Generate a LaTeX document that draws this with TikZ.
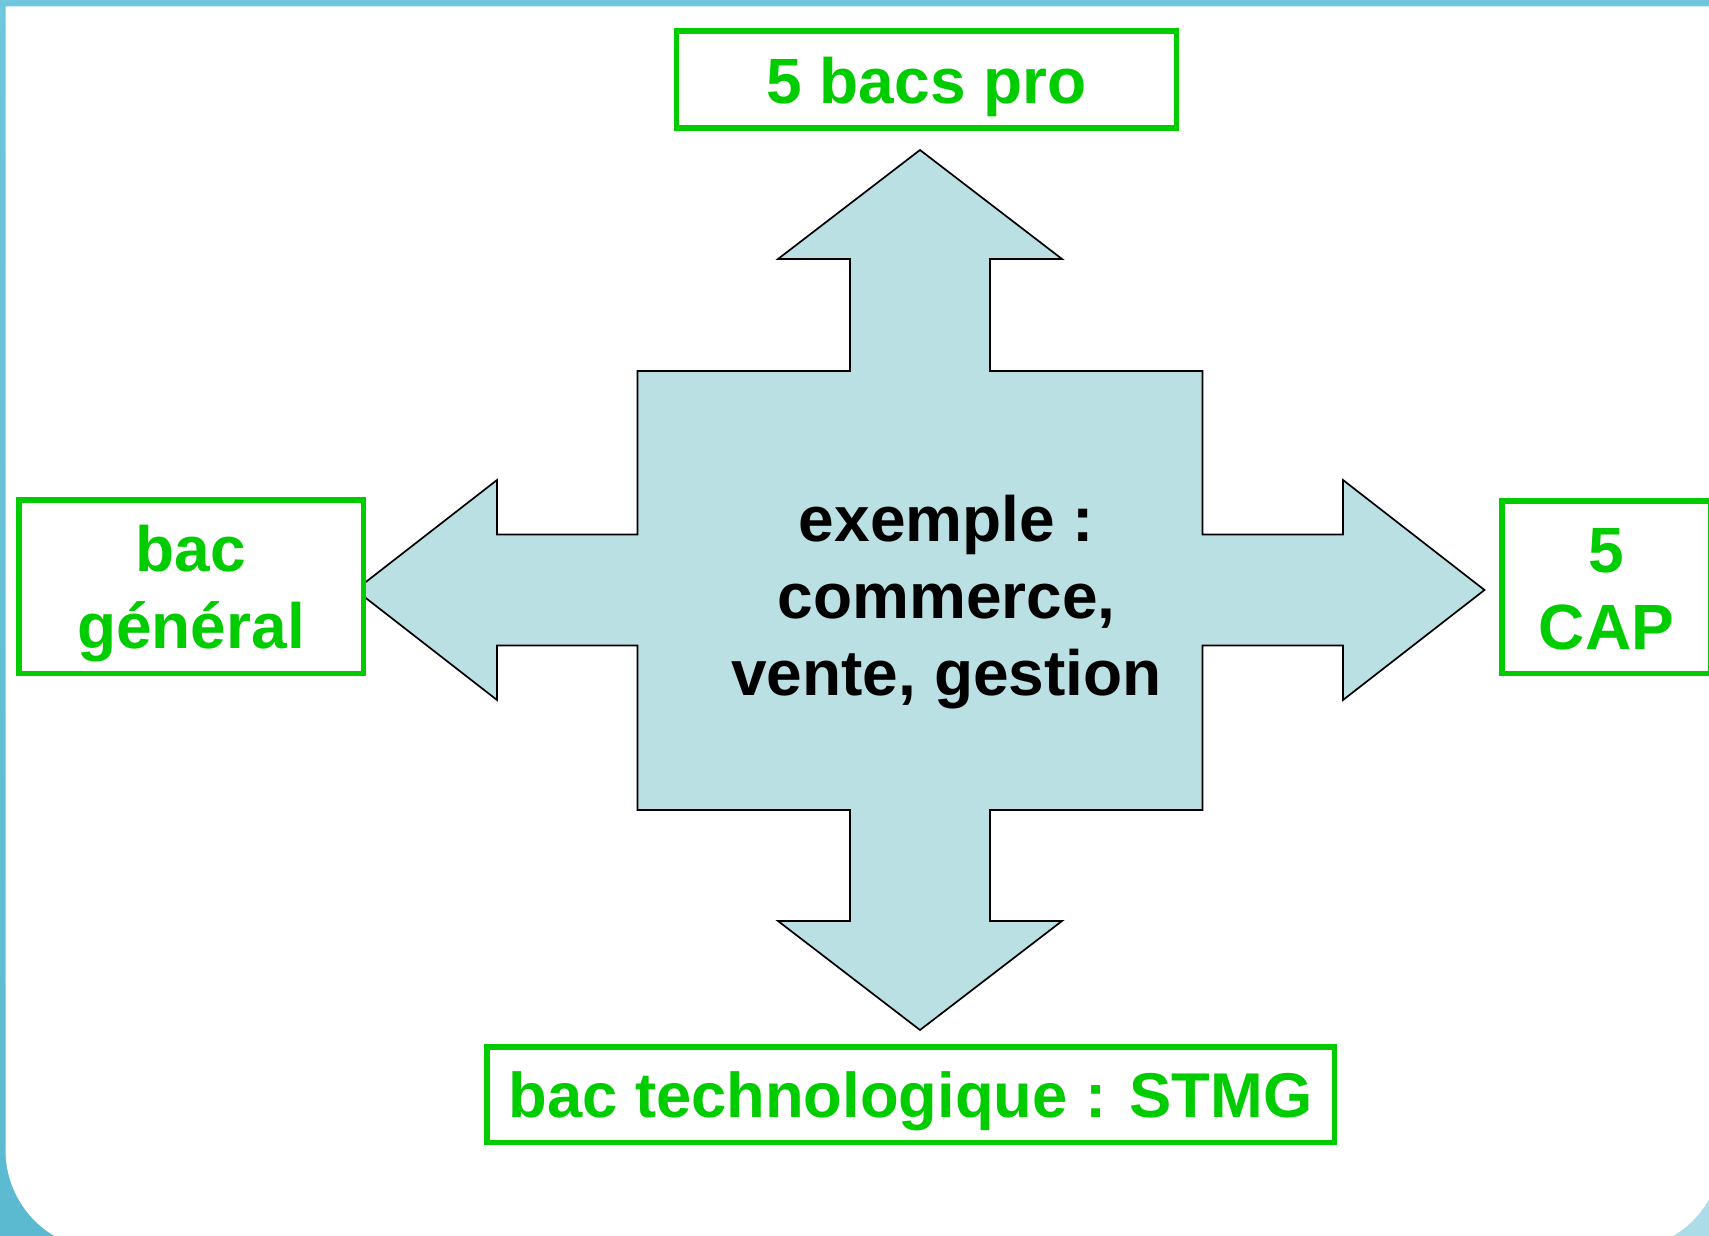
\documentclass[tikz,border=0pt]{standalone}
\usepackage{fontspec}
\setmainfont{Liberation Sans}
\definecolor{gtext}{RGB}{0,204,0}
\definecolor{crossfill}{RGB}{187,224,227}
\definecolor{frametop}{RGB}{112,198,220}
\definecolor{framebot}{RGB}{92,186,208}
\definecolor{framelight}{RGB}{172,220,232}
\begin{document}
\begin{tikzpicture}[x=1pt,y=-1pt,
  bigfont/.style={font=\fontsize{64}{76.7}\selectfont\bfseries},
  gbox/.style={bigfont, draw=gtext, line width=5.5pt, fill=white, text=gtext, inner sep=0pt},
  ctext/.style={bigfont, text=black, inner sep=0pt},
  crossstyle/.style={fill=crossfill, draw=black, line width=1.7pt}]
% canvas
\useasboundingbox (0,0) rectangle (1709,1236);
\shade[top color=frametop, bottom color=framebot] (0,0) rectangle (1709,1236);
\fill[framelight] (1560,1080) rectangle (1709,1236);
\fill[white] (5.5,6.5) -- (1722,6.5) -- (1722,1150)
  arc[start angle=0, end angle=90, radius=100] -- (105.5,1250)
  arc[start angle=90, end angle=180, radius=100] -- cycle;
% four-way arrow
\coordinate (c) at (920,590);
\draw[crossstyle, shift={(c)}]
  (0,-440) -- (142,-331) -- (70,-331) -- (70,-219) -- (282.5,-219) -- (282.5,-55.5)
  -- (423,-55.5) -- (423,-110) -- (564.5,0) -- (423,110) -- (423,55.5) -- (282.5,55.5)
  -- (282.5,220) -- (70,220) -- (70,331) -- (142,331) -- (0,440) -- (-142,331)
  -- (-70,331) -- (-70,220) -- (-282.5,220) -- (-282.5,55.5) -- (-423,55.5)
  -- (-423,110) -- (-564.5,0) -- (-423,-110) -- (-423,-55.5) -- (-282.5,-55.5)
  -- (-282.5,-219) -- (-70,-219) -- (-70,-331) -- (-142,-331) -- cycle;
\node[ctext, anchor=base] (centre) at (946.5,541.7)
  {\begin{tabular}[t]{@{}c@{}}exemple :\\commerce,\\vente, gestion\end{tabular}};
% destination boxes
\node[gbox, anchor=base, text height=72.3pt, text depth=24.7pt, minimum width=500pt]
  (pro) at (926.5,103.3) {5 bacs pro};
\node[gbox, font=\fontsize{63.3}{76}\selectfont\bfseries, anchor=base,
  text height=70.55pt, text depth=24.95pt, minimum width=847.5pt]
  (techno) at (910.5,1117.3) {bac technologique : STMG};
\node[gbox, anchor=base, text height=71.95pt, text depth=101.55pt, minimum width=344.5pt]
  (gen) at (191,571.7) {\begin{tabular}[t]{@{}c@{}}bac\\général\end{tabular}};
\node[gbox, anchor=base, text height=71.95pt, text depth=100.55pt, minimum width=209.25pt]
  (cap) at (1606.4,572.7) {\begin{tabular}[t]{@{}c@{}}5\\CAP\end{tabular}};
\end{tikzpicture}
\end{document}
